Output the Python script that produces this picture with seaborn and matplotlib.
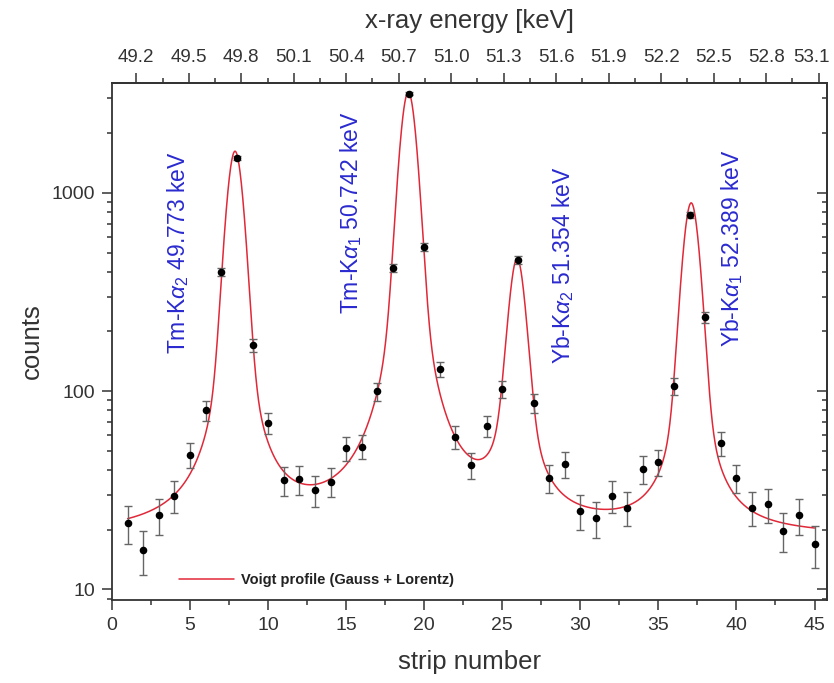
import numpy as np
import pandas as pd
import matplotlib
matplotlib.use("Agg")
import matplotlib.pyplot as plt
import matplotlib.transforms as mtransforms
from matplotlib.ticker import MultipleLocator, FixedLocator, NullFormatter, FuncFormatter
import seaborn as sns

# ---------------- data ----------------
strip = list(range(1, 46))
counts = [21.7, 15.8, 23.8, 29.7, 47.7, 80, 399, 1500, 170, 69,
          35.7, 36, 31.8, 35, 51.6, 52.6, 99.7, 418, 3160, 534,
          129, 59, 42.5, 66.8, 102, 460, 87, 36.6, 42.9, 24.9,
          22.9, 29.7, 25.9, 40.5, 43.9, 106.5, 777, 236, 54.7, 36.6,
          25.9, 26.9, 19.8, 23.8, 16.9]
errors = [4.7, 4.0, 4.9, 5.4, 6.9, 8.9, 20, 39, 13, 8.3,
          6.0, 6.0, 5.6, 5.9, 7.2, 7.3, 10, 20.4, 56, 23,
          11.4, 7.7, 6.5, 8.2, 10.1, 21.4, 9.3, 6.0, 6.5, 5.0,
          4.8, 5.4, 5.1, 6.4, 6.6, 10.3, 27.9, 15.4, 7.4, 6.0,
          5.1, 5.2, 4.4, 4.9, 4.1]

# Voigt fit parameters (pseudo-Voigt: Gauss + Lorentz)
peak_centers = [7.88, 18.98, 25.95, 37.1]
peak_heights = [1600, 3200, 440, 870]
peak_hwhm = [0.56, 0.56, 0.56, 0.56]
peak_eta = [0.31, 0.33, 0.45, 0.31]
fit_background = 18.3

peak_labels = [r"Tm-K$\alpha_2$ 49.773 keV", r"Tm-K$\alpha_1$ 50.742 keV",
               r"Yb-K$\alpha_2$ 51.354 keV", r"Yb-K$\alpha_1$ 52.389 keV"]
label_x = [4.2, 15.3, 28.9, 39.75]
label_y = [500, 793, 430, 527]

energy_ticks = [49.2, 49.5, 49.8, 50.1, 50.4, 50.7, 51.0, 51.3, 51.6, 51.9, 52.2, 52.5, 52.8, 53.1]
E0, dE = 49.061, 0.08924   # energy calibration: E = E0 + dE * strip

# ---------------- style ----------------
sns.set_theme(style="ticks")
plt.rcParams["font.family"] = ["Liberation Sans", "DejaVu Sans"]
plt.rcParams["mathtext.fontset"] = "custom"
plt.rcParams["mathtext.rm"] = "Liberation Sans"
plt.rcParams["mathtext.it"] = "Liberation Sans:italic"
plt.rcParams["mathtext.bf"] = "Liberation Sans:bold"

fig = plt.figure(figsize=(8.34, 6.83), dpi=100)
ax = fig.add_axes([0.1343, 0.1215, 0.8573, 0.7577])

# fit curve
xf = np.linspace(1, 45, 2000)
yf = np.full_like(xf, fit_background)
for c, h, w, eta in zip(peak_centers, peak_heights, peak_hwhm, peak_eta):
    d = (xf - c) / w
    yf += h * (eta / (1 + d ** 2) + (1 - eta) * np.exp(-np.log(2) * d ** 2))
fit_df = pd.DataFrame({"strip": xf, "fit": yf})
sns.lineplot(data=fit_df, x="strip", y="fit", ax=ax, color="#e02838", lw=1.1,
             label="Voigt profile (Gauss + Lorentz)", zorder=2)

df = pd.DataFrame({"strip": strip, "counts": counts, "err": errors})
ax.errorbar(df["strip"], df["counts"], yerr=df["err"], fmt="none",
            ecolor="#666666", elinewidth=1.0, capsize=3.2, capthick=1.0, zorder=3)
sns.scatterplot(data=df, x="strip", y="counts", ax=ax, color="black", s=30,
                edgecolor="black", linewidth=0, zorder=4, legend=False)

ax.set_yscale("log")
ax.set_xlim(0, 45.8)
ax.set_ylim(8.85, 3600)

for spine in ax.spines.values():
    spine.set_linewidth(1.3)
    spine.set_color("#333333")
    spine.set_visible(True)

ax.xaxis.set_major_locator(MultipleLocator(5))
ax.xaxis.set_minor_locator(MultipleLocator(2.5))
ax.yaxis.set_major_locator(FixedLocator([10, 100, 1000]))
ax.yaxis.set_major_formatter(FuncFormatter(lambda v, p: f"{v:g}"))
ax.yaxis.set_minor_locator(matplotlib.ticker.LogLocator(base=10, subs=np.arange(2, 10)))
ax.yaxis.set_minor_formatter(NullFormatter())
ax.tick_params(axis="both", which="major", direction="out", length=7, width=1.1,
               color="#333333", labelsize=14, labelcolor="#333333", pad=5)
ax.tick_params(axis="both", which="minor", direction="out", length=3.5, width=1.1,
               color="#333333")
ax.tick_params(top=False, right=False)

ax.set_xlabel("strip number", fontsize=18.5, color="#333333", labelpad=12)
ax.set_ylabel("counts", fontsize=18.5, color="#333333", labelpad=6)

# right axis: ticks pointing inward, no labels
sec_r = ax.secondary_yaxis("right")
sec_r.yaxis.set_major_locator(FixedLocator([10, 100, 1000]))
sec_r.yaxis.set_minor_locator(matplotlib.ticker.LogLocator(base=10, subs=np.arange(2, 10)))
sec_r.tick_params(which="major", direction="in", length=7, width=1.1, color="#333333",
                  labelright=False)
sec_r.tick_params(which="minor", direction="in", length=3.5, width=1.1, color="#333333")
sec_r.spines["right"].set_linewidth(1.3)
sec_r.spines["right"].set_color("#333333")

# top axis: x-ray energy
sec_t = ax.secondary_xaxis("top", functions=(lambda s: E0 + dE * s, lambda e: (e - E0) / dE))
sec_t.xaxis.set_major_locator(FixedLocator(energy_ticks))
sec_t.xaxis.set_minor_locator(FixedLocator([e + 0.15 for e in energy_ticks[:-1]]))
sec_t.xaxis.set_major_formatter(FuncFormatter(lambda v, p: f"{v:.1f}"))
sec_t.tick_params(which="major", direction="out", length=7, width=1.1, color="#333333",
                  labelsize=13.5, labelcolor="#333333", pad=5)
sec_t.tick_params(which="minor", direction="out", length=3.5, width=1.1, color="#333333")
sec_t.spines["top"].set_linewidth(1.3)
sec_t.spines["top"].set_color("#333333")
sec_t.set_xlabel("x-ray energy [keV]", fontsize=18.5, color="#333333", labelpad=15)

# peak labels
for lx, ly, txt in zip(label_x, label_y, peak_labels):
    ax.text(lx, ly, txt, rotation=90, ha="center", va="center",
            fontsize=16.5, color="#2a2ad0")

leg = ax.legend(loc="lower left", bbox_to_anchor=(0.075, 0.0), frameon=False,
                handlelength=3.8, handletextpad=0.5, prop={"weight": "bold", "size": 10.5})
for t in leg.get_texts():
    t.set_color("#222222")

# keep the last energy label inside the canvas
fig.canvas.draw()
last_tick = sec_t.xaxis.get_major_ticks()[len(energy_ticks) - 1]
shift = mtransforms.ScaledTranslation(-5 / 72, 0, fig.dpi_scale_trans)
last_tick.label2.set_transform(last_tick.label2.get_transform() + shift)

fig.savefig("out.png", dpi=100)
